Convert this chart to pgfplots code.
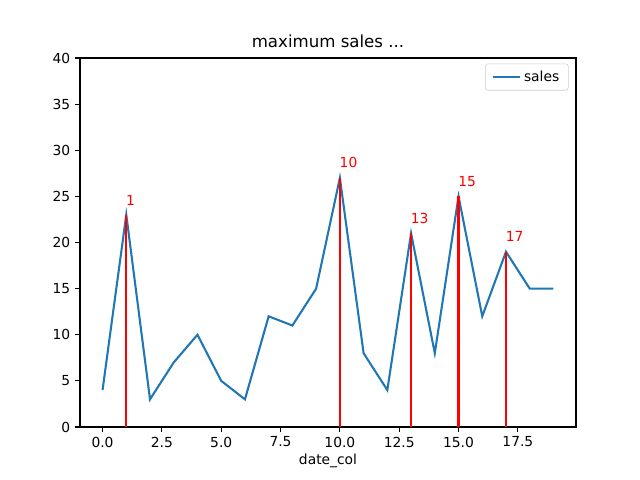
\documentclass[border=0pt]{standalone}
\usepackage{pgfplots}
\pgfplotsset{compat=1.18}
\usepackage{fontspec}
\setmainfont{DejaVu Sans}
\definecolor{mplblue}{HTML}{1F77B4}
\begin{document}
\begin{tikzpicture}
\path[use as bounding box] (0,0) rectangle (6.4in,4.8in);
\begin{axis}[
  at={(0.8in,0.53in)}, anchor=south west,
  scale only axis, width=4.96in, height=3.69in,
  xmin=-0.95, xmax=19.95, ymin=0, ymax=40,
  xtick={0,2.5,...,17.5},
  xticklabels={0.0,2.5,5.0,7.5,10.0,12.5,15.0,17.5},
  ytick={0,5,...,40},
  tick align=outside, tick pos=left,
  major tick length=3.5pt,
  tick style={black, line width=0.8pt},
  axis line style={line width=0.8pt},
  /pgf/number format/assume math mode=true,
  ticklabel style={font=\fontsize{10}{12}\selectfont},
  title={maximum sales ...},
  title style={font=\fontsize{12}{14}\selectfont, yshift=-2pt},
  xlabel={date\_col},
  xlabel style={font=\fontsize{10}{12}\selectfont, yshift=2pt},
  legend style={at={(0.985,0.985)}, anchor=north east, font=\fontsize{10}{12}\selectfont,
    draw=black!20, rounded corners=2pt, inner xsep=4.5pt, inner ysep=3pt},
  legend cell align=left,
  legend image code/.code={\draw[#1] (0pt,0pt) -- (20pt,0pt);},
]
\addplot[mplblue, line width=1.5pt, mark=none] coordinates {
(0,4) (1,23) (2,3) (3,7) (4,10) (5,5) (6,3) (7,12) (8,11) (9,15)
(10,27) (11,8) (12,4) (13,21) (14,8) (15,25) (16,12) (17,19) (18,15) (19,15)};
\addlegendentry{sales}
\addplot[ycomb, red, line width=1.5pt, forget plot,
  nodes near coords, point meta=explicit symbolic,
  every node near coord/.style={anchor=south west, red, font=\fontsize{10}{12}\selectfont, xshift=-4.2pt, yshift=3pt}]
  coordinates {(1,23)[1] (10,27)[10] (13,21)[13] (15,25)[15] (17,19)[17]};
\end{axis}
\end{tikzpicture}
\end{document}
